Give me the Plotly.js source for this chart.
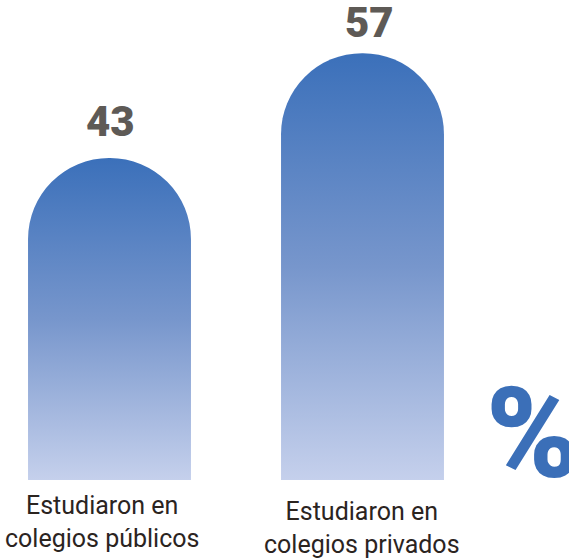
<!DOCTYPE html>
<html>
<head>
<meta charset="utf-8">
<script src="https://cdn.plot.ly/plotly-3.0.1.min.js"></script>
<style>
  html, body { margin: 0; padding: 0; background: #ffffff; }
  #chart { width: 569px; height: 559px; }
</style>
</head>
<body>
<div id="chart"></div>
<script>
// ---- data ----
const categories = ['Estudiaron en colegios públicos', 'Estudiaron en colegios privados'];
const labelLines = [
  ['Estudiaron en', 'colegios públicos'],
  ['Estudiaron en', 'colegios privados']
];
const values = [43, 57];
const unitSymbol = '%';

// ---- styling (not data) ----
const labelShift = [{x: -8, y: -9}, {x: -1, y: -15}];
const valueShift = [{x: 1, y: 10}, {x: 7, y: 4}];

const trace = {
  type: 'bar',
  x: categories,
  y: values,
  marker: { color: '#5b82c4', cornerradius: '50%', line: { width: 0 } },
  hoverinfo: 'none',
  textposition: 'none'
};

const annotations = [];
categories.forEach((c, i) => {
  annotations.push({
    x: c, xref: 'x', y: 0, yref: 'paper',
    xanchor: 'center', yanchor: 'top',
    xshift: labelShift[i].x, yshift: labelShift[i].y,
    text: labelLines[i].join('<br>'),
    showarrow: false,
    font: { family: 'Roboto, "Liberation Sans", sans-serif', size: 25, color: '#2b241f' }
  });
  annotations.push({
    x: c, xref: 'x', y: values[i], yref: 'y',
    xanchor: 'center', yanchor: 'bottom',
    xshift: valueShift[i].x, yshift: valueShift[i].y,
    text: String(values[i]),
    showarrow: false,
    font: { family: 'Roboto, "Liberation Sans", sans-serif', size: 42, weight: 900, color: '#5e5a56' }
  });
});
annotations.push({
  x: 484 / 569, xref: 'paper', y: 0, yref: 'paper',
  xanchor: 'left', yanchor: 'bottom', yshift: -30,
  text: unitSymbol, showarrow: false,
  font: { family: 'Roboto, "Liberation Sans", sans-serif', size: 126, weight: 900, color: '#3b6fb8' }
});

const layout = {
  width: 569, height: 559,
  margin: { l: 0, r: 0, t: 0, b: 79, pad: 0 },
  paper_bgcolor: '#ffffff',
  plot_bgcolor: 'rgba(0,0,0,0)',
  showlegend: false,
  bargap: 0.356,
  xaxis: {
    type: 'category',
    range: [-0.4328, 1.8162],
    showgrid: false, zeroline: false, showline: false,
    showticklabels: false, ticks: '', fixedrange: true
  },
  yaxis: {
    range: [0, 64.1],
    showgrid: false, zeroline: false, showline: false,
    showticklabels: false, ticks: '', fixedrange: true
  },
  annotations: annotations
};

const gd = document.getElementById('chart');

function applyGradient() {
  const svg = gd.querySelector('svg.main-svg');
  if (!svg) return;
  if (!document.getElementById('barGrad')) {
    const ns = 'http://www.w3.org/2000/svg';
    let defs = svg.querySelector('defs');
    if (!defs) { defs = document.createElementNS(ns, 'defs'); svg.insertBefore(defs, svg.firstChild); }
    const lg = document.createElementNS(ns, 'linearGradient');
    lg.setAttribute('id', 'barGrad');
    lg.setAttribute('x1', '0'); lg.setAttribute('y1', '0');
    lg.setAttribute('x2', '0'); lg.setAttribute('y2', '1');
    [['0', '#3b70ba'], ['0.5', '#7796cc'], ['1', '#c5d0ec']].forEach(([o, col]) => {
      const s = document.createElementNS(ns, 'stop');
      s.setAttribute('offset', o);
      s.setAttribute('stop-color', col);
      lg.appendChild(s);
    });
    defs.appendChild(lg);
  }
  gd.querySelectorAll('.barlayer .point path').forEach(p => {
    p.style.fill = 'url(#barGrad)';
  });
}

Plotly.newPlot(gd, [trace], layout, { displayModeBar: false, staticPlot: true }).then(() => {
  applyGradient();
  gd.on('plotly_afterplot', applyGradient);
});
</script>
</body>
</html>
